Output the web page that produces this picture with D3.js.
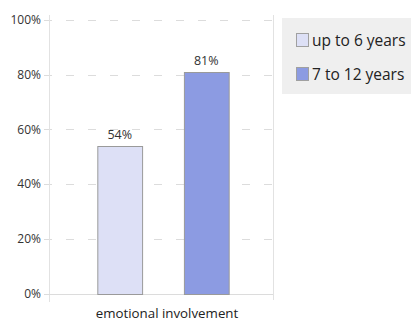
<!DOCTYPE html>
<html>
<head>
<meta charset="utf-8">
<script src="https://cdn.jsdelivr.net/npm/d3@7"></script>
<style>
  body { margin: 0; background: #fff; }
  svg { display: block; font-family: "Open Sans", "DejaVu Sans", sans-serif; }
</style>
</head>
<body>
<div id="chart"></div>
<script>
const categories = ['emotional involvement'];
const seriesNames = ['up to 6 years', '7 to 12 years'];
const seriesValues = [[54], [81]];
const colors = ['#dde0f6', '#8c9be2'];
const yTicks = [0, 20, 40, 60, 80, 100];

const width = 411, height = 322;
const plot = { left: 49, right: 273, top: 20, bottom: 293.5 };

const svg = d3.select('#chart')
  .append('svg')
  .attr('width', width)
  .attr('height', height);

const y = d3.scaleLinear()
  .domain([0, 100])
  .range([plot.bottom, plot.top]);

const x0 = d3.scaleBand()
  .domain(categories)
  .range([52, 274])
  .paddingOuter(0.345);

const x1 = d3.scaleBand()
  .domain(seriesNames)
  .range([0, x0.bandwidth()])
  .paddingInner(0.483);

// grid lines
svg.append('g')
  .selectAll('line')
  .data(yTicks.filter(d => d > 0))
  .enter()
  .append('line')
  .attr('x1', 44)
  .attr('x2', plot.right)
  .attr('y1', d => Math.round(y(d)) + 0.5)
  .attr('y2', d => Math.round(y(d)) + 0.5)
  .attr('stroke', '#dcdcdc')
  .attr('stroke-dasharray', '8,14');

// frame lines
svg.append('line')
  .attr('x1', plot.left + 0.5).attr('x2', plot.left + 0.5)
  .attr('y1', 15).attr('y2', 302)
  .attr('stroke', '#e2e2e2');
svg.append('line')
  .attr('x1', plot.right + 0.5).attr('x2', plot.right + 0.5)
  .attr('y1', 15).attr('y2', 300)
  .attr('stroke', '#e2e2e2');
svg.append('line')
  .attr('x1', 44).attr('x2', plot.right)
  .attr('y1', Math.round(y(0)) + 0.5).attr('y2', Math.round(y(0)) + 0.5)
  .attr('stroke', '#dcdcdc');

// y axis
const yAxis = svg.append('g')
  .attr('transform', `translate(${plot.left - 5},0)`)
  .call(d3.axisLeft(y).tickValues(yTicks).tickSize(0).tickPadding(3).tickFormat(d => d + '%'));
yAxis.select('.domain').remove();
yAxis.selectAll('text')
  .attr('font-size', 12)
  .attr('font-family', '"Open Sans", sans-serif')
  .attr('fill', '#333');

// bars
const groups = svg.append('g')
  .selectAll('g')
  .data(categories)
  .enter()
  .append('g')
  .attr('transform', d => `translate(${x0(d)},0)`);

groups.selectAll('rect')
  .data((d, i) => seriesNames.map((s, j) => ({ s, j, v: seriesValues[j][i] })))
  .enter()
  .append('rect')
  .attr('x', d => x1(d.s) + 0.5)
  .attr('y', d => Math.round(y(d.v)) + 0.5)
  .attr('width', x1.bandwidth())
  .attr('height', d => Math.round(y(0)) - Math.round(y(d.v)))
  .attr('fill', d => colors[d.j])
  .attr('stroke', '#9a9a9a');

groups.selectAll('text.val')
  .data((d, i) => seriesNames.map((s, j) => ({ s, j, v: seriesValues[j][i] })))
  .enter()
  .append('text')
  .attr('class', 'val')
  .attr('x', d => x1(d.s) + x1.bandwidth() / 2)
  .attr('y', d => y(d.v) - 7)
  .attr('text-anchor', 'middle')
  .attr('font-size', 12.5)
  .attr('fill', '#333')
  .text(d => d.v + '%');

// x axis label
svg.selectAll('text.cat')
  .data(categories)
  .enter()
  .append('text')
  .attr('class', 'cat')
  .attr('x', d => x0(d) + x0.bandwidth() / 2 + 4)
  .attr('y', 318)
  .attr('text-anchor', 'middle')
  .attr('font-size', 13.3)
  .attr('fill', '#222')
  .text(d => d);

// legend
const legend = svg.append('g').attr('transform', 'translate(282,18)');
legend.append('rect')
  .attr('width', 129)
  .attr('height', 76)
  .attr('fill', '#efefef');

const items = legend.selectAll('g')
  .data(seriesNames)
  .enter()
  .append('g')
  .attr('transform', (d, i) => `translate(14,${15 + i * 34})`);
items.append('rect')
  .attr('x', 0.5).attr('y', 0.5)
  .attr('width', 12).attr('height', 13)
  .attr('fill', (d, i) => colors[i])
  .attr('stroke', '#a0a0a0');
items.append('text')
  .attr('x', 16)
  .attr('y', 12.5)
  .attr('font-size', 15.5)
  .attr('fill', '#222')
  .text(d => d);
</script>
</body>
</html>
